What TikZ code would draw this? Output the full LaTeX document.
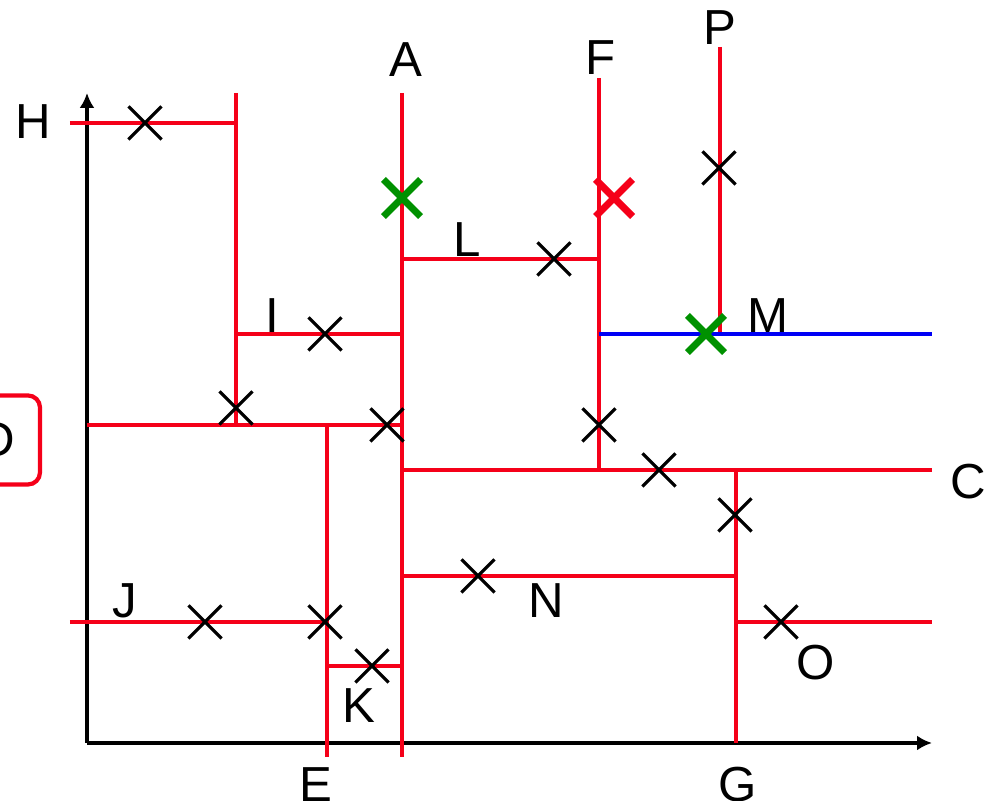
\documentclass[tikz,border=0pt]{standalone}
\usepackage{fontspec}
\setmainfont{Liberation Sans}
\usetikzlibrary{arrows.meta,shapes.misc}
\definecolor{cutred}{RGB}{245,0,25}
\definecolor{hitgreen}{RGB}{0,145,0}
\definecolor{queryblue}{RGB}{0,0,245}

\begin{document}
\begin{tikzpicture}[
    cut/.style={cutred, line width=1.2pt},
    lbl/.style={font=\fontsize{14}{16}\selectfont, inner sep=0pt},
    pnt/.style={cross out, draw=black, line width=0.9pt, minimum size=0.3cm, inner sep=0pt},
    hit/.style={pnt, draw=hitgreen, line width=2pt},
    miss/.style={pnt, draw=cutred, line width=2pt}]
    \useasboundingbox (-0.87,-0.58) rectangle (9.03,7.43);

    % Axes
    \draw[line width=1.2pt, -{Latex[length=0.15cm,width=0.15cm]}] (0,0) -- (8.45,0);
    \draw[line width=1.2pt, -{Latex[length=0.15cm,width=0.15cm]}] (0,0) -- (0,6.5);

    % Splitting lines
    \draw[cut] (3.15,6.50) -- (3.15,-0.14);   % A
    \draw[cut] (0,3.18) -- (3.15,3.18);       % D
    \draw[cut] (3.15,2.73) -- (8.45,2.73);    % C
    \draw[cut] (1.49,6.50) -- (1.49,3.18);
    \draw[cut] (-0.17,6.20) -- (1.49,6.20);   % H
    \draw[cut] (1.49,4.09) -- (3.15,4.09);    % I
    \draw[cut] (2.40,3.18) -- (2.40,-0.14);   % E
    \draw[cut] (-0.17,1.21) -- (2.40,1.21);   % J
    \draw[cut] (2.40,0.77) -- (3.15,0.77);    % K
    \draw[cut] (5.12,6.65) -- (5.12,2.73);    % F
    \draw[cut] (3.15,4.84) -- (5.12,4.84);    % L
    \draw[cut] (6.33,6.96) -- (6.33,4.09);    % P
    \draw[cut] (6.49,2.73) -- (6.49,0);       % G
    \draw[cut] (3.15,1.67) -- (6.49,1.67);    % N
    \draw[cut] (6.49,1.21) -- (8.45,1.21);    % O

    % Query line
    \draw[queryblue, line width=1.2pt] (5.12,4.09) -- (8.45,4.09);   % M

    % Points
    \foreach \x/\y [count=\i] in {0.58/6.20, 2.38/4.09, 1.49/3.35, 3.00/3.18,
        1.18/1.21, 2.38/1.21, 2.85/0.77, 3.91/1.67, 4.67/4.84, 6.32/5.75,
        5.12/3.18, 5.72/2.73, 6.48/2.28, 6.94/1.21}
        \node[pnt] (p\i) at (\x,\y) {};
    \node[hit] (best1) at (3.15,5.45) {};
    \node[hit] (best2) at (6.19,4.09) {};
    \node[miss] (far) at (5.27,5.45) {};

    % Labels
    \node[lbl] (lA) at (3.19,6.83) {A};
    \node[lbl] (lF) at (5.14,6.85) {F};
    \node[lbl] (lP) at (6.33,7.15) {P};
    \node[lbl] (lH) at (-0.54,6.21) {H};
    \node[lbl] (lL) at (3.80,5.03) {L};
    \node[lbl] (lI) at (1.85,4.27) {I};
    \node[lbl] (lM) at (6.81,4.27) {M};
    \node[lbl] (lC) at (8.81,2.61) {C};
    \node[lbl] (lN) at (4.59,1.42) {N};
    \node[lbl] (lJ) at (0.38,1.42) {J};
    \node[lbl] (lO) at (7.29,0.80) {O};
    \node[lbl] (lK) at (2.72,0.37) {K};
    \node[lbl] (lE) at (2.29,-0.42) {E};
    \node[lbl] (lG) at (6.51,-0.42) {G};
    \node[lbl, draw=cutred, line width=1.2pt, rounded corners=0.12cm,
        minimum width=0.86cm, minimum height=0.89cm] (lD) at (-0.90,3.03) {D};
\end{tikzpicture}
\end{document}
